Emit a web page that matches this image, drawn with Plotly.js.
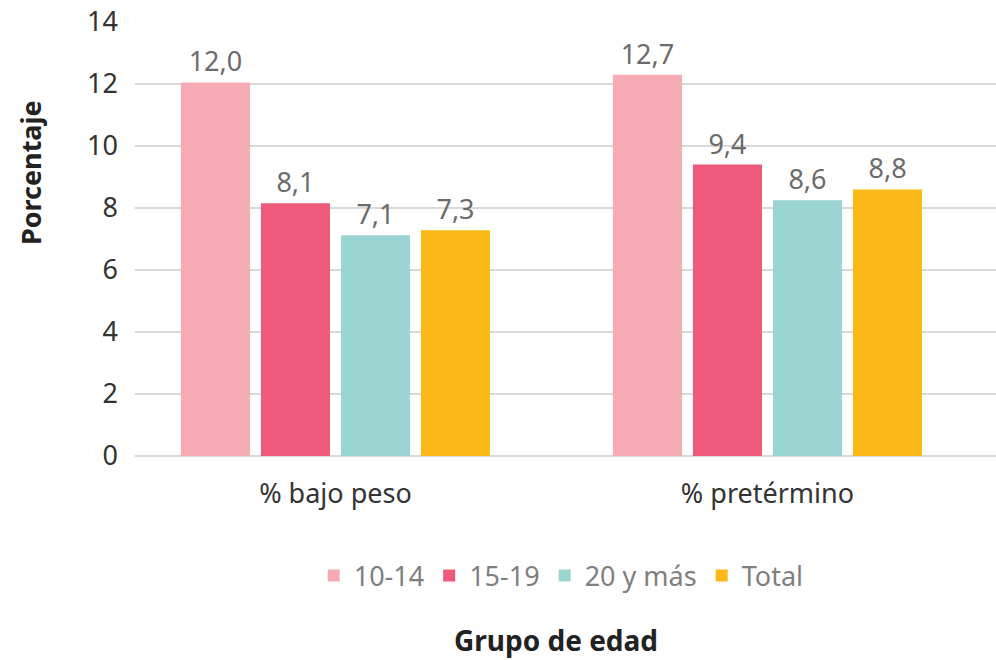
<!DOCTYPE html>
<html>
<head>
<meta charset="utf-8">
<script src="https://cdn.plot.ly/plotly-3.0.1.min.js"></script>
<style>html,body{margin:0;padding:0;background:#fff;}#chart{width:996px;height:660px;}</style>
</head>
<body>
<div id="chart"></div>
<script>
const categories = ["% bajo peso", "% pretérmino"];
const seriesNames = ["10-14", "15-19", "20 y más", "Total"];
// bar heights
const v1014 = [12.05, 12.3];
const v1519 = [8.15, 9.4];
const v20mas = [7.12, 8.25];
const vTotal = [7.28, 8.6];
// data labels as printed
const l1014 = ["12,0", "12,7"];
const l1519 = ["8,1", "9,4"];
const l20mas = ["7,1", "8,6"];
const lTotal = ["7,3", "8,8"];
const yTicks = [0, 2, 4, 6, 8, 10, 12, 14];

const colors = ["#F6AAB4", "#EF597C", "#9AD5D2", "#FBB917"];
const values = [v1014, v1519, v20mas, vTotal];
const labels = [l1014, l1519, l20mas, lTotal];
const font = "Noto Sans, Open Sans, sans-serif";

const traces = seriesNames.map((n, i) => ({
  type: "bar",
  name: n,
  x: categories,
  y: values[i],
  text: labels[i],
  textposition: "outside",
  cliponaxis: false,
  textfont: {family: font, size: 27, color: "#6b6b6b"},
  marker: {color: colors[i]},
  hoverinfo: "skip"
}));

const layout = {
  width: 996, height: 660,
  margin: {l: 135, r: 0, t: 22, b: 204},
  paper_bgcolor: "#fff", plot_bgcolor: "#fff",
  barmode: "group",
  bargap: 0.259,
  bargroupgap: 0.1375,
  uniformtext: {mode: false},
  showlegend: true,
  legend: {
    orientation: "h", x: 0.495, xanchor: "center", y: -0.2765, yanchor: "middle",
    font: {family: font, size: 27, color: "#7f7f7f"},
    tracegroupgap: 0, traceorder: "normal"
  },
  xaxis: {
    type: "category",
    range: [-0.464, 1.529],
    showgrid: false, zeroline: false, showline: false,
    ticks: "",
    tickfont: {family: font, size: 27, color: "#333"},
    ticklabelstandoff: 19
  },
  yaxis: {
    range: [0, 14],
    tickvals: yTicks,
    ticktext: yTicks.map(String),
    showgrid: true, gridcolor: "#d9d9d9", gridwidth: 2,
    zeroline: true, zerolinecolor: "#d9d9d9", zerolinewidth: 2,
    showline: false, ticks: "",
    tickfont: {family: font, size: 27, color: "#333"},
    ticklabelstandoff: 16
  },
  annotations: [
    {text: "<b>Porcentaje</b>", xref: "paper", yref: "paper", x: -0.122, y: 0.654,
     textangle: -90, showarrow: false, xanchor: "center", yanchor: "middle",
     font: {family: font, size: 27, color: "#222"}},
    {text: "<b>Grupo de edad</b>", xref: "paper", yref: "paper", x: 0.489, y: -0.424,
     showarrow: false, xanchor: "center", yanchor: "middle",
     font: {family: font, size: 28, color: "#222"}}
  ]
};

Plotly.newPlot("chart", traces, layout, {displayModeBar: false, staticPlot: true});
</script>
</body>
</html>
